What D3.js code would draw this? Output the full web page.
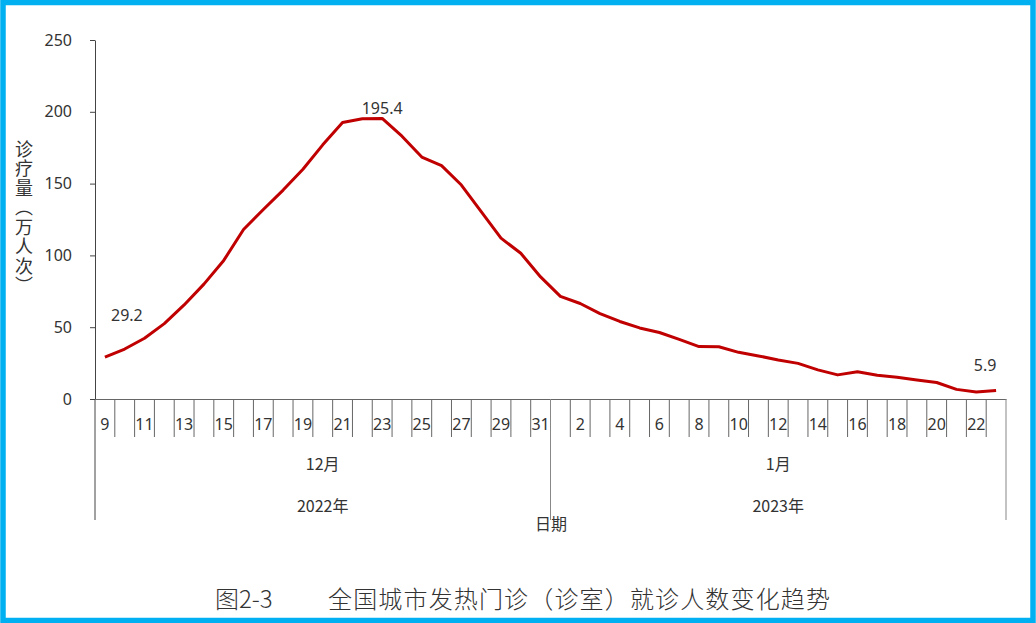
<!DOCTYPE html>
<html>
<head>
<meta charset="utf-8">
<script src="https://cdn.jsdelivr.net/npm/d3@7"></script>
<style>
  html, body { margin: 0; padding: 0; background: #fff; }
  svg text { font-family: "Noto Sans", "Noto Sans CJK SC", sans-serif; fill: #333; }
  .cjk { font-family: "Noto Sans CJK SC", sans-serif; }
</style>
</head>
<body>
<svg id="chart" width="1036" height="623"></svg>
<script>
// daily visits (10k), 2022-12-09 .. 2023-01-23
const dayLabels = [9, 10, 11, 12, 13, 14, 15, 16, 17, 18, 19, 20, 21, 22, 23, 24, 25, 26, 27, 28, 29, 30, 31,
                   1, 2, 3, 4, 5, 6, 7, 8, 9, 10, 11, 12, 13, 14, 15, 16, 17, 18, 19, 20, 21, 22, 23];
const visits = [29.2, 34.8, 42.3, 52.5, 65.5, 80.0, 96.5, 118.0, 132.0, 145.5, 160.0, 177.0, 192.5, 195.2, 195.4,
                183.0, 168.5, 162.5, 149.0, 130.5, 112.0, 101.5, 85.0,
                71.5, 66.5, 59.5, 54.0, 49.5, 46.3, 41.5, 36.5, 36.4, 32.5, 30.0, 27.2, 24.8, 20.3, 16.8,
                19.0, 16.5, 15.2, 13.2, 11.5, 6.7, 4.8, 5.9];
const monthNames = ["12月", "1月"];
const monthCounts = [23, 23];
const yearNames = ["2022年", "2023年"];
const yearCounts = [23, 23];
const yTicks = [0, 50, 100, 150, 200, 250];
const labelled = [0, 14, 45];   // points with a value label

(function() {
    const svg = d3.select("#chart");

    // blue frame
    svg.append("rect")
        .attr("x", 3).attr("y", 2.5)
        .attr("width", 1030).attr("height", 618)
        .attr("fill", "none")
        .attr("stroke", "#00B0F0")
        .attr("stroke-width", 5.5);

    var plotLeft = 95, plotRight = 1006, plotTop = 40, plotBottom = 399, catBottom = 520;

    var x = d3.scaleBand().domain(d3.range(visits.length)).range([plotLeft, plotRight]);
    var y = d3.scaleLinear().domain([0, 250]).range([plotBottom, plotTop]);

    // y axis
    var yAxis = svg.append("g")
        .attr("transform", "translate(" + plotLeft + ",0)")
        .call(d3.axisLeft(y).tickValues(yTicks).tickSize(5).tickSizeOuter(0).tickPadding(18));
    yAxis.select(".domain").attr("stroke", "#444");
    yAxis.selectAll(".tick line").attr("stroke", "#444");
    yAxis.selectAll("text").attr("font-size", 16).attr("fill", "#333");

    // x axis baseline + day labels
    var xAxis = svg.append("g")
        .attr("transform", "translate(0," + plotBottom + ")")
        .call(d3.axisBottom(x)
            .tickSize(0).tickPadding(20)
            .tickFormat(function(i) { return i % 2 === 0 ? dayLabels[i] : ""; }));
    xAxis.select(".domain").attr("stroke", "#666");
    xAxis.selectAll("text").attr("font-size", 16).attr("fill", "#333");

    // category boundary ticks
    svg.append("g").selectAll("line")
        .data(d3.range(1, visits.length))
        .join("line")
        .attr("x1", function(i) { return x(i); })
        .attr("x2", function(i) { return x(i); })
        .attr("y1", plotBottom).attr("y2", plotBottom + 38)
        .attr("stroke", "#666");

    // group boundaries (month / year) and the outer edges
    var groupEdges = [0];
    monthCounts.forEach(function(c, k) { groupEdges.push(groupEdges[k] + c); });
    svg.append("g").selectAll("line")
        .data(groupEdges)
        .join("line")
        .attr("x1", function(i) { return i < visits.length ? x(i) : plotRight; })
        .attr("x2", function(i) { return i < visits.length ? x(i) : plotRight; })
        .attr("y1", plotBottom).attr("y2", catBottom)
        .attr("stroke", function(i) { return i === 0 ? "#444" : "#888"; });

    function groupCenter(start, count) {
        var a = x(start), b = start + count < visits.length ? x(start + count) : plotRight;
        return (a + b) / 2;
    }

    var mStart = 0;
    monthNames.forEach(function(m, k) {
        svg.append("text").attr("class", "cjk")
            .attr("x", groupCenter(mStart, monthCounts[k])).attr("y", 463)
            .attr("text-anchor", "middle").attr("dominant-baseline", "central")
            .attr("font-size", 16).text(m);
        mStart += monthCounts[k];
    });
    var yrStart = 0;
    yearNames.forEach(function(t, k) {
        svg.append("text").attr("class", "cjk")
            .attr("x", groupCenter(yrStart, yearCounts[k])).attr("y", 505)
            .attr("text-anchor", "middle").attr("dominant-baseline", "central")
            .attr("font-size", 16).text(t);
        yrStart += yearCounts[k];
    });

    // axis titles
    svg.append("text").attr("class", "cjk")
        .attr("x", 551).attr("y", 523)
        .attr("text-anchor", "middle").attr("dominant-baseline", "central")
        .attr("font-size", 16).text("日期");

    svg.append("text").attr("class", "cjk")
        .attr("x", 24).attr("y", 140)
        .style("writing-mode", "vertical-rl")
        .style("letter-spacing", "1.5px")
        .attr("font-size", 18)
        .text("诊疗量（万人次）");

    // the line
    var line = d3.line()
        .x(function(d, i) { return x(i) + x.bandwidth() / 2; })
        .y(function(d) { return y(d); });

    svg.append("path")
        .datum(visits)
        .attr("fill", "none")
        .attr("stroke", "#C00000")
        .attr("stroke-width", 3)
        .attr("stroke-linejoin", "round")
        .attr("d", line);

    // value labels
    var labelShift = { 0: [22, -42], 14: [0, -10], 45: [-11, -26] };
    svg.append("g").selectAll("text")
        .data(labelled)
        .join("text")
        .attr("x", function(i) { return x(i) + x.bandwidth() / 2 + labelShift[i][0]; })
        .attr("y", function(i) { return y(visits[i]) + labelShift[i][1]; })
        .attr("text-anchor", "middle").attr("dominant-baseline", "central")
        .attr("font-size", 16)
        .text(function(i) { return visits[i].toFixed(1); });

    // caption
    svg.append("text").attr("class", "cjk")
        .attr("x", 215).attr("y", 597)
        .attr("dominant-baseline", "central")
        .attr("font-size", 24).attr("fill", "#222").attr("font-weight", 300)
        .text("图2-3");
    svg.append("text").attr("class", "cjk")
        .attr("x", 328).attr("y", 597)
        .attr("dominant-baseline", "central")
        .attr("font-size", 24).attr("fill", "#222").attr("font-weight", 300)
        .attr("textLength", 502)
        .text("全国城市发热门诊（诊室）就诊人数变化趋势");
})();
</script>
</body>
</html>
